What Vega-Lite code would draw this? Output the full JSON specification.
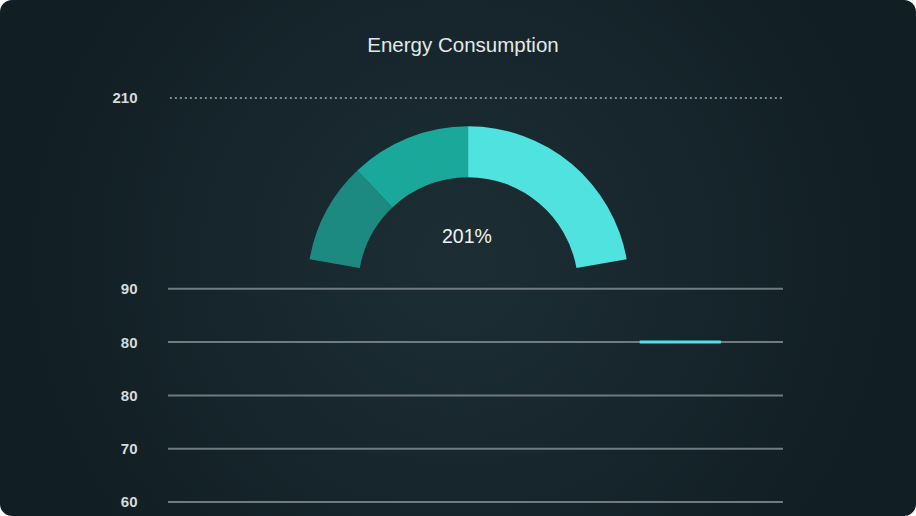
{
  "$schema": "https://vega.github.io/schema/vega-lite/v6.json",
  "width": 916,
  "height": 516,
  "autosize": "none",
  "padding": 0,
  "background": "#ffffff",
  "view": {
    "cornerRadius": 12,
    "stroke": null,
    "fill": {"gradient": "radial", "stops": [{"offset": 0, "color": "#1c2e34"}, {"offset": 1, "color": "#111e24"}]}
  },
  "title": {
    "text": "Energy Consumption",
    "orient": "top",
    "anchor": "middle",
    "offset": -56,
    "dx": 5,
    "font": "Liberation Sans",
    "fontSize": 20.5,
    "fontWeight": "normal",
    "color": "#e3e9ea"
  },
  "datasets": {
    "grid": [
      {"level": 60, "start": 0, "end": 100},
      {"level": 70, "start": 0, "end": 100},
      {"level": 80, "start": 0, "end": 100},
      {"level": 90, "start": 0, "end": 100},
      {"level": 100, "start": 0, "end": 100}
    ],
    "target": [{"level": 135.8, "start": 0.3, "end": 100}],
    "highlight": [{"level": 90, "start": 76.7, "end": 89.9}],
    "gauge": [
      {"segment": "A", "share": 36.5, "cx": 48.8, "cy": 100.3, "rank": 1},
      {"segment": "B", "share": 43.5, "cx": 48.8, "cy": 100.3, "rank": 2},
      {"segment": "C", "share": 80, "cx": 48.8, "cy": 100.3, "rank": 3}
    ],
    "label": [{"text": "201%", "cx": 48.6, "cy": 109.8}]
  },
  "layer": [
    {
      "data": {"name": "grid"},
      "mark": {"type": "rule", "color": "#6f7b7e", "strokeWidth": 2},
      "encoding": {
        "x": {"field": "start", "type": "quantitative", "scale": {"domain": [-27.32, 121.63], "nice": false, "zero": false}, "axis": null},
        "x2": {"field": "end"},
        "y": {
          "field": "level",
          "type": "quantitative",
          "scale": {"domain": [57.37, 154.18], "nice": false, "zero": false},
          "axis": {
            "values": [60, 70, 80, 90, 100, 135.8],
            "labelExpr": "datum.value == 60 ? '60' : datum.value == 70 ? '70' : datum.value == 80 ? '80' : datum.value == 90 ? '80' : datum.value == 100 ? '90' : '210'",
            "offset": -140,
            "labelPadding": 3,
            "ticks": false,
            "domain": false,
            "grid": false,
            "title": null,
            "labelFont": "Liberation Sans",
            "labelFontSize": 15,
            "labelFontWeight": "bold",
            "labelColor": "#d3dcdc"
          }
        }
      }
    },
    {
      "data": {"name": "target"},
      "mark": {"type": "rule", "color": "#7d8b8d", "strokeWidth": 2, "strokeDash": [2, 3]},
      "encoding": {
        "x": {"field": "start", "type": "quantitative"},
        "x2": {"field": "end"},
        "y": {"field": "level", "type": "quantitative"}
      }
    },
    {
      "data": {"name": "highlight"},
      "mark": {"type": "rule", "color": "#4ee3ea", "strokeWidth": 3},
      "encoding": {
        "x": {"field": "start", "type": "quantitative"},
        "x2": {"field": "end"},
        "y": {"field": "level", "type": "quantitative"}
      }
    },
    {
      "data": {"name": "gauge"},
      "mark": {"type": "arc", "outerRadius": 161, "innerRadius": 110},
      "encoding": {
        "x": {"field": "cx", "type": "quantitative"},
        "y": {"field": "cy", "type": "quantitative"},
        "theta": {"field": "share", "type": "quantitative", "stack": true, "scale": {"range": [-1.396, 1.396]}},
        "order": {"field": "rank"},
        "color": {
          "field": "segment",
          "type": "nominal",
          "legend": null,
          "scale": {"domain": ["A", "B", "C"], "range": ["#1d8a81", "#1aa89b", "#50e2de"]}
        }
      }
    },
    {
      "data": {"name": "label"},
      "mark": {"type": "text", "font": "Liberation Sans", "fontSize": 19.5, "color": "#f0f4f4", "align": "center", "baseline": "middle"},
      "encoding": {
        "x": {"field": "cx", "type": "quantitative"},
        "y": {"field": "cy", "type": "quantitative"},
        "text": {"field": "text"}
      }
    }
  ]
}
